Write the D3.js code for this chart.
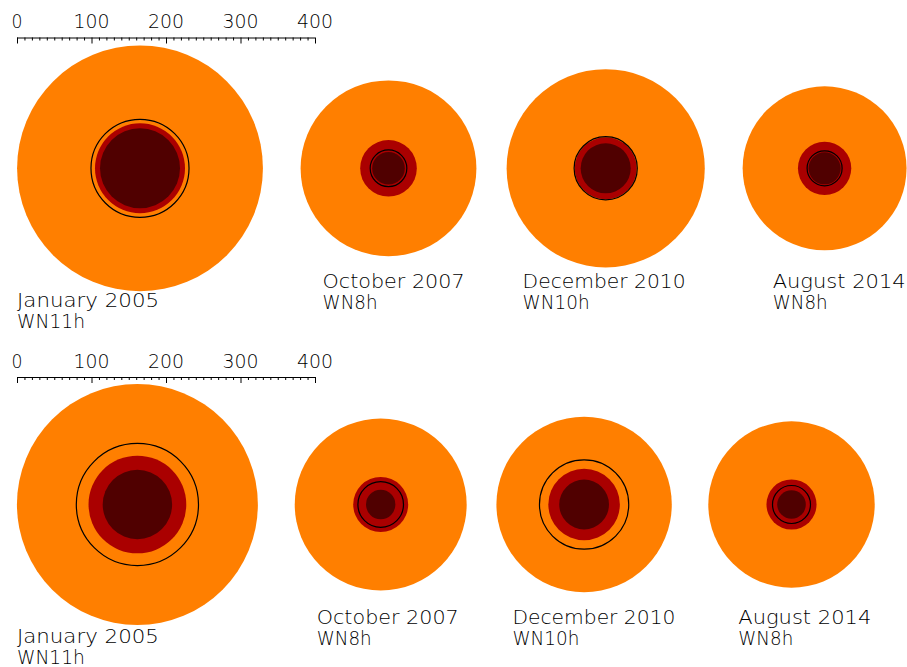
<!DOCTYPE html>
<html>
<head>
<meta charset="utf-8">
<script src="https://cdn.jsdelivr.net/npm/d3@7"></script>
<style>
html,body{margin:0;padding:0;background:#fff;}
svg{display:block;}
text{font-family:"DejaVu Sans","Liberation Sans",sans-serif;font-weight:200;fill:#000;}
</style>
</head>
<body>
<script>
// ---- data (radii in scale units) ----
const epochs = ["January 2005", "October 2007", "December 2010", "August 2014"];
const spectralTypes = ["WN11h", "WN8h", "WN10h", "WN8h"];
const scaleTicks = [0, 100, 200, 300, 400];
// top panel
const topOuter   = [165, 118, 133, 110];
const topMid     = [60.4, 38, 41.6, 35.8];
const topInner   = [53.7, 21.9, 33.6, 21.5];
const topRing    = [65.8, 24.6, 42.4, 23.5];
// bottom panel
const botOuter   = [161.7, 115.4, 117.7, 111.7];
const botMid     = [65.6, 36.9, 48, 33.6];
const botInner   = [46.6, 19.7, 33.4, 19.2];
const botRing    = [82, 30.6, 59.9, 25.5];

// ---- layout ----
const W = 907, H = 667;
const colors = {outer: "#ff7f00", mid: "#aa0000", inner: "#500000"};
const panels = [
  {cy: 168.3, cx: [140, 388.5, 605.7, 824.6], barY: 37.5, labY: [307.3, 288, 288, 288],
   outer: topOuter, mid: topMid, inner: topInner, ring: topRing},
  {cy: 504.5, cx: [137.4, 380.7, 584.1, 791.5], barY: 377, labY: [642.5, 624, 624, 624],
   outer: botOuter, mid: botMid, inner: botInner, ring: botRing}
];
const labOffset = [0, 22, 16, 30];
const labW1 = [142, 142, 163, 133];
const labW2 = [68, 55, 67, 55];
const numW = {"0": 11, "100": 36, "200": 36, "300": 36, "400": 36};

const svg = d3.select("body").append("svg").attr("width", W).attr("height", H);
const x = d3.scaleLinear().domain([0, 400]).range([17, 315]);
const r = v => x(v) - x(0);

panels.forEach(p => {
  const g = svg.append("g");
  const idx = d3.range(epochs.length);
  g.selectAll("circle.outer").data(idx).join("circle").attr("class", "outer")
    .attr("cx", i => p.cx[i]).attr("cy", p.cy).attr("r", i => r(p.outer[i])).attr("fill", colors.outer);
  g.selectAll("circle.mid").data(idx).join("circle").attr("class", "mid")
    .attr("cx", i => p.cx[i]).attr("cy", p.cy).attr("r", i => r(p.mid[i])).attr("fill", colors.mid);
  g.selectAll("circle.inner").data(idx).join("circle").attr("class", "inner")
    .attr("cx", i => p.cx[i]).attr("cy", p.cy).attr("r", i => r(p.inner[i])).attr("fill", colors.inner);
  g.selectAll("circle.ring").data(idx).join("circle").attr("class", "ring")
    .attr("cx", i => p.cx[i]).attr("cy", p.cy).attr("r", i => r(p.ring[i]))
    .attr("fill", "none").attr("stroke", "#000").attr("stroke-width", 1.2);

  const lx = i => p.cx[i] - r(p.outer[i]) + labOffset[i];
  g.selectAll("text.ep").data(idx).join("text").attr("class", "ep")
    .attr("x", lx).attr("y", i => p.labY[i]).attr("font-size", 19.5)
    .attr("textLength", i => labW1[i]).attr("lengthAdjust", "spacingAndGlyphs")
    .text(i => epochs[i]);
  g.selectAll("text.sp").data(idx).join("text").attr("class", "sp")
    .attr("x", lx).attr("y", i => p.labY[i] + 21).attr("font-size", 19.5)
    .attr("textLength", i => labW2[i]).attr("lengthAdjust", "spacingAndGlyphs")
    .text(i => spectralTypes[i]);

  const axis = d3.axisBottom(x).tickValues(d3.range(0, 401, 10))
    .tickSize(3).tickFormat("");
  const ag = svg.append("g").attr("transform", `translate(0,${p.barY})`).call(axis);
  ag.select(".domain").attr("d", `M${x(0)},0.5H${x(400)}`).attr("stroke", "#000");
  ag.selectAll(".tick line").attr("y2", d => d % 100 === 0 ? 6 : 3).attr("stroke", "#000");
  svg.append("g").selectAll("text").data(scaleTicks).join("text")
    .attr("x", d => x(d) - numW[String(d)] / 2).attr("y", p.barY - 9.5)
    .attr("font-size", 19.5)
    .attr("textLength", d => numW[String(d)]).attr("lengthAdjust", "spacingAndGlyphs")
    .text(d => d);
});
</script>
</body>
</html>
